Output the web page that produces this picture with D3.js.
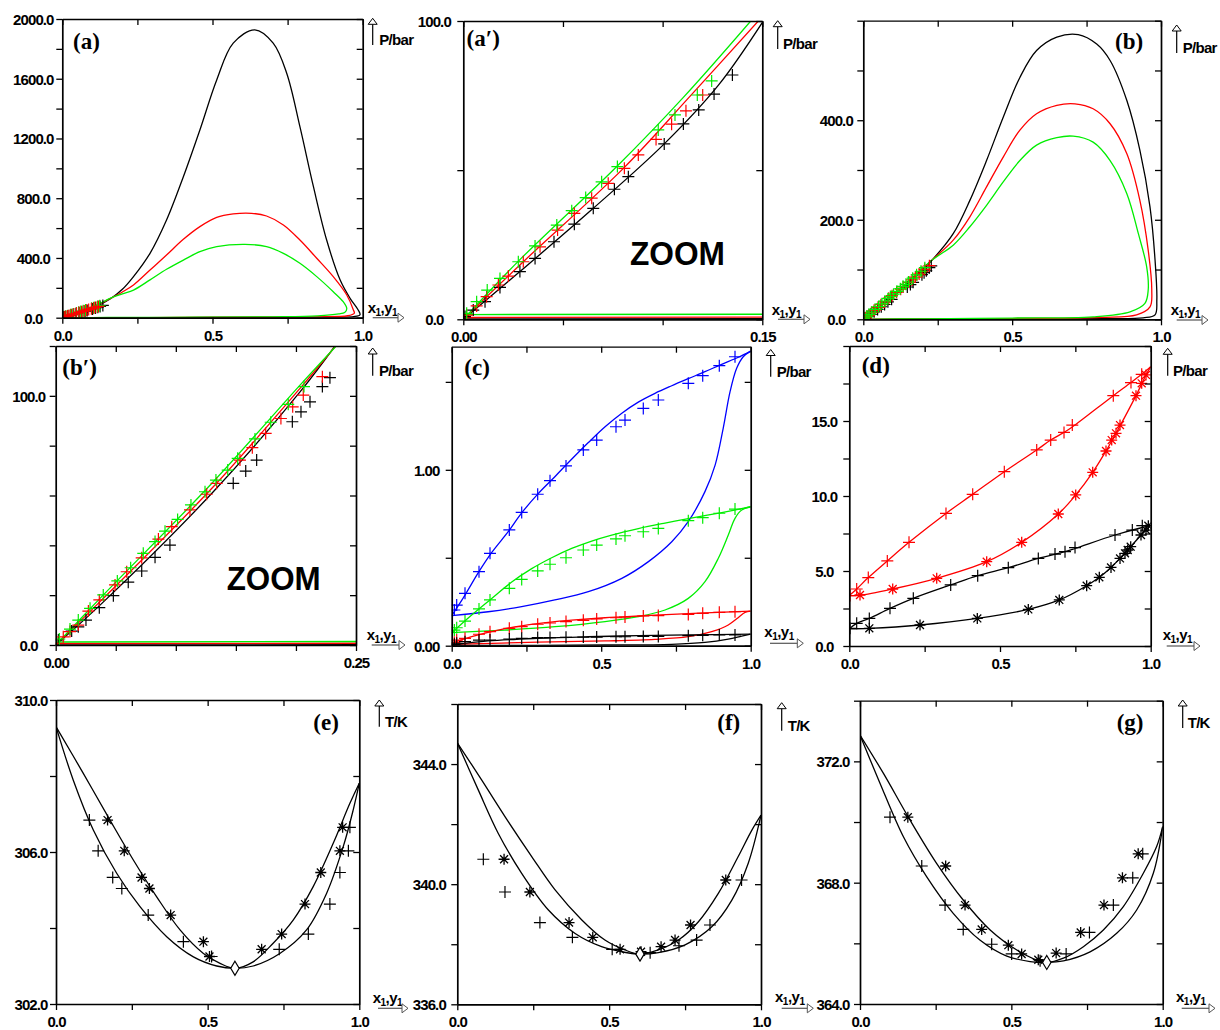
<!DOCTYPE html>
<html><head><meta charset="utf-8">
<script src="https://cdn.jsdelivr.net/npm/d3@7"></script>
<style>
body{margin:0;background:#fff;}
</style></head><body>
<svg id="chart" width="1220" height="1030"></svg>
<script>
// ---------------- DATA ----------------
// Panel (a): P-x-y loops, x1 0..1, P/bar 0..2000
const aXTicks = [0, 0.25, 0.5, 0.75, 1];
const aXLabels = [0, 0.5, 1];
const aYTicks = [0, 200, 400, 600, 800, 1000, 1200, 1400, 1600, 1800, 2000];
const aYLabels = [0, 400, 800, 1200, 1600, 2000];
const aBlackCurve = [[0,0],[0.08,47],[0.159,125],[0.20,190],[0.237,275],[0.292,431],[0.347,654],[0.403,944],[0.458,1257],[0.514,1592],[0.569,1838],[0.641,1927],[0.702,1838],[0.747,1637],[0.791,1279],[0.836,877],[0.880,520],[0.925,252],[0.958,130],[0.985,52],[0.991,20],[0.97,7],[0.90,4],[0.70,2],[0.40,1],[0.10,0.3],[0,0]];
const aRedCurve = [[0,0],[0.08,49],[0.159,128],[0.20,172],[0.237,219],[0.292,319],[0.347,420],[0.403,525],[0.458,610],[0.514,672],[0.569,695],[0.630,699],[0.680,681],[0.736,621],[0.791,520],[0.847,398],[0.902,275],[0.947,152],[0.969,52],[0.972,30],[0.95,13],[0.85,6],[0.65,3],[0.40,1.5],[0.10,0.5],[0,0]];
const aGreenCurve = [[0,0],[0.08,51],[0.159,130],[0.20,160],[0.237,185],[0.292,253],[0.347,324],[0.403,386],[0.458,442],[0.514,476],[0.608,491],[0.680,476],[0.736,431],[0.791,364],[0.847,275],[0.902,174],[0.935,107],[0.947,60],[0.94,35],[0.92,25],[0.85,12],[0.70,6],[0.45,3],[0.15,1.5],[0,0]];

// Panel (a'): zoom, x1 0..0.15, P 0..100
const apXTicks = [0, 0.05, 0.10, 0.15];
const apXLabels = [0, 0.15];
const apYTicks = [0, 50, 100];
const apYLabels = [0, 100];
const apBlackUpper = [[0,0],[0.0284,16],[0.0652,37.2],[0.1008,58.8],[0.128,78.5],[0.1505,100]];
const apRedUpper = [[0,0],[0.0301,19.3],[0.0803,50.6],[0.1146,75.4],[0.148,100]];
const apGreenUpper = [[0,0],[0.0284,20],[0.077,51.2],[0.1104,74.4],[0.1442,100]];
const apBlackLower = [[0,0.1],[0.15,0.2]];
const apRedLower = [[0,0.6],[0.15,0.7]];
const apGreenLower = [[0,1.6],[0.15,1.7]];
const apBlackPts = [[0.00085,0.9],[0.005,3.1],[0.0109,5.9],[0.0184,10.7],[0.0284,16.0],[0.036,20.4],[0.0455,26.0],[0.0557,31.9],[0.0652,37.2],[0.0758,43.6],[0.0828,47.8],[0.1008,58.8],[0.1104,65.5],[0.1181,70.2],[0.1258,75.5],[0.135,81.9]];
const apRedPts = [[0.0017,1.4],[0.0067,4.5],[0.0117,7.6],[0.0176,11.5],[0.0226,14.5],[0.0301,19.3],[0.0385,24.3],[0.0473,29.9],[0.0557,35.5],[0.0644,40.6],[0.0727,45.6],[0.0808,50.6],[0.0878,55.1],[0.0967,60.3],[0.1045,65.4],[0.1117,69.9],[0.1201,75.2]];
const apGreenPts = [[0.0017,2.0],[0.0067,5.9],[0.012,9.8],[0.0184,13.7],[0.0276,19.3],[0.036,24.6],[0.0469,31.6],[0.0544,36.4],[0.0614,40.8],[0.0694,46.1],[0.0773,51.2],[0.0978,63.5],[0.1062,68.5],[0.1174,75.2],[0.1246,79.9]];

// Panel (b): x1 0..1, P 0..600
const bXTicks = [0, 0.25, 0.5, 0.75, 1];
const bXLabels = [0, 0.5, 1];
const bYTicks = [0, 100, 200, 300, 400, 500, 600];
const bYLabels = [0, 200, 400];
const bBlackCurve = [[0,0],[0.1312,61.5],[0.2325,120],[0.302,172],[0.358,239],[0.414,319],[0.470,406],[0.526,486],[0.582,540],[0.650,567],[0.722,572],[0.784,553],[0.829,520],[0.885,440],[0.929,340],[0.963,226],[0.980,119],[0.986,39],[0.980,9],[0.94,3],[0.80,1.5],[0.50,0.8],[0.20,0.3],[0,0]];
const bRedCurve = [[0,0],[0.1312,63.5],[0.233,120],[0.302,159],[0.358,206],[0.414,266],[0.470,326],[0.526,380],[0.582,413],[0.650,430],[0.711,433],[0.772,423],[0.829,393],[0.885,333],[0.929,239],[0.957,139],[0.969,59],[0.963,25],[0.918,9],[0.80,4],[0.50,1.5],[0.20,0.5],[0,0]];
const bGreenCurve = [[0,0],[0.1312,65.5],[0.2335,120],[0.302,149],[0.358,186],[0.414,229],[0.470,276],[0.526,319],[0.582,350],[0.650,365],[0.705,368],[0.772,356],[0.829,319],[0.885,253],[0.924,172],[0.952,105],[0.957,59],[0.946,32],[0.896,15],[0.772,5],[0.50,2.5],[0.20,1],[0,0]];

// Panel (b'): zoom, x1 0..0.25, P 0..120
const bpXTicks = [0, 0.05, 0.10, 0.15, 0.20, 0.25];
const bpXLabels = [0, 0.25];
const bpYTicks = [0, 20, 40, 60, 80, 100, 120];
const bpYLabels = [0, 100];
const bpBlackUpper = [[0,0],[0.0369,16],[0.1312,61.5],[0.2034,101.6],[0.2325,120]];
const bpRedUpper = [[0,0],[0.0369,17.4],[0.1312,63.5],[0.2034,103],[0.233,120]];
const bpGreenUpper = [[0,0],[0.0369,18.7],[0.1312,65.5],[0.2034,104.3],[0.2335,120]];
const bpBlackLower = [[0,0.05],[0.25,0.1]];
const bpRedLower = [[0,0.6],[0.25,0.7]];
const bpGreenLower = [[0,1.2],[0.25,1.4]];
const bpBlackPts = [[0.0022,2.0],[0.0133,5.6],[0.0188,7.3],[0.0252,10.0],[0.0363,15.0],[0.048,19.8],[0.0604,25.2],[0.0716,29.7],[0.0827,35.2],[0.0951,40.1],[0.1478,64.9],[0.1582,69.8],[0.1673,74.2],[0.197,89.6],[0.2042,93.6],[0.2117,97.6],[0.222,103.7],[0.2283,107.3]];
const bpRedPts = [[0.0008,0.7],[0.0063,3.3],[0.0119,5.4],[0.0188,8.0],[0.0272,13.6],[0.0363,18.1],[0.0494,24.1],[0.0591,29.4],[0.0716,35.0],[0.0855,42.5],[0.0966,47.5],[0.1118,54.2],[0.1257,60.5],[0.134,64.9],[0.1534,74.2],[0.1637,79.2],[0.1748,84.9],[0.1875,90.9],[0.1973,95.6],[0.2061,100.3],[0.222,107.7]];
const bpGreenPts = [[0.003,2.4],[0.0119,6.4],[0.0188,10.0],[0.0286,14.7],[0.0396,20.1],[0.0513,25.7],[0.0624,31.0],[0.0729,36.8],[0.0827,41.5],[0.091,45.7],[0.1015,50.4],[0.1126,56.2],[0.1243,61.5],[0.1334,66.2],[0.1432,70.2],[0.1515,74.9],[0.1659,82.7],[0.179,89.4],[0.1936,96.6],[0.2067,103.7]];

// Panel (c): x1 0..1, P 0..1.7
const cXTicks = [0, 0.25, 0.5, 0.75, 1];
const cXLabels = [0, 0.5, 1];
const cYTicks = [0, 0.5, 1.0, 1.5];
const cYLabels = [0, 1.0];
const cBlueBub = [[0,0.171],[0.0445,0.288],[0.089,0.415],[0.134,0.530],[0.189,0.648],[0.234,0.755],[0.29,0.866],[0.345,0.961],[0.401,1.060],[0.457,1.155],[0.513,1.245],[0.569,1.322],[0.624,1.385],[0.68,1.435],[0.736,1.478],[0.791,1.518],[0.847,1.558],[0.903,1.600],[0.959,1.640],[1,1.675]];
const cBlueDew = [[0,0.171],[0.122,0.193],[0.234,0.222],[0.345,0.26],[0.457,0.307],[0.569,0.383],[0.658,0.478],[0.736,0.591],[0.791,0.705],[0.847,0.876],[0.881,1.027],[0.908,1.236],[0.931,1.444],[0.953,1.577],[0.975,1.643],[1,1.675]];
const cGreenBub = [[0,0.074],[0.0669,0.175],[0.1338,0.269],[0.2007,0.362],[0.2676,0.438],[0.3344,0.500],[0.4013,0.553],[0.4682,0.595],[0.5351,0.629],[0.6241,0.666],[0.7134,0.697],[0.7913,0.722],[0.903,0.757],[1,0.79]];
const cGreenDew = [[0,0.074],[0.178,0.089],[0.3456,0.108],[0.5128,0.137],[0.624,0.165],[0.7134,0.203],[0.7913,0.269],[0.8472,0.364],[0.8917,0.497],[0.9251,0.629],[0.9475,0.724],[0.9699,0.771],[1,0.79]];
const cRedBub = [[0,0.014],[0.0669,0.051],[0.178,0.097],[0.2876,0.126],[0.4013,0.145],[0.5128,0.159],[0.624,0.169],[0.7355,0.178],[0.847,0.187],[1,0.197]];
const cRedDew = [[0,0.008],[0.2876,0.02],[0.5128,0.027],[0.6799,0.036],[0.7913,0.051],[0.8695,0.08],[0.925,0.118],[0.958,0.159],[0.9811,0.189],[1,0.197]];
const cBlackBub = [[0,0.004],[0.122,0.027],[0.2876,0.042],[0.4569,0.051],[0.624,0.057],[0.7913,0.061],[1,0.066]];
const cBlackDew = [[0,0.001],[0.5128,0.004],[0.7355,0.008],[0.847,0.019],[0.925,0.038],[0.9699,0.055],[1,0.066]];
const cXExp = [0.0089,0.0167,0.0445,0.0913,0.1281,0.1927,0.2341,0.2876,0.3288,0.3823,0.4402,0.4849,0.5495,0.5796,0.6408,0.691,0.7913,0.8395,0.895,0.9475];
const cBluePts = [0.203,0.231,0.298,0.421,0.525,0.658,0.758,0.861,0.938,1.022,1.113,1.169,1.245,1.283,1.349,1.397,1.492,1.535,1.592,1.643];
const cGreenPts = [0.089,0.102,0.140,0.209,0.260,0.326,0.377,0.425,0.463,0.500,0.544,0.572,0.607,0.625,0.648,0.667,0.711,0.728,0.753,0.777];
const cRedPts = [0.019,0.032,0.042,0.065,0.080,0.099,0.108,0.122,0.129,0.137,0.144,0.152,0.159,0.163,0.169,0.171,0.178,0.184,0.190,0.193];
const cBlackPts = [0.008,0.014,0.023,0.032,0.032,0.038,0.042,0.046,0.046,0.048,0.049,0.049,0.051,0.051,0.053,0.053,0.057,0.059,0.061,0.061];

// Panel (d): x1 0..1, P 0..20
const dXTicks = [0, 0.25, 0.5, 0.75, 1];
const dXLabels = [0, 0.5, 1];
const dYTicks = [0, 2.5, 5, 7.5, 10, 12.5, 15, 17.5, 20];
const dYLabels = [0, 5, 10, 15];
const dRedBub = [[0,3.36],[0.0245,3.8],[0.063,4.56],[0.1261,5.67],[0.1981,6.91],[0.3208,8.84],[0.4094,10.11],[0.5143,11.62],[0.6218,13.07],[0.6682,13.73],[0.7124,14.24],[0.7399,14.6],[0.8759,16.69],[0.9346,17.56],[0.9701,18.11],[1,18.62]];
const dRedDew = [[0,3.36],[0.0355,3.38],[0.144,3.8],[0.29,4.51],[0.4559,5.62],[0.572,6.91],[0.6934,8.8],[0.7512,10.07],[0.8076,11.58],[0.8517,13.0],[0.8849,14.18],[0.9512,16.69],[0.9844,18.07],[1,18.62]];
const dBlackBub = [[0,1.15],[0.0245,1.51],[0.0664,1.84],[0.135,2.51],[0.2124,3.18],[0.3364,4.07],[0.426,4.69],[0.5275,5.22],[0.6271,5.84],[0.7157,6.29],[0.7489,6.5],[0.8816,7.4],[0.9721,7.9],[1,8.02]];
const dBlackDew = [[0,1.15],[0.0664,1.18],[0.2346,1.4],[0.4247,1.84],[0.5939,2.44],[0.6967,3.07],[0.7876,4.02],[0.8295,4.58],[0.8683,5.24],[0.8982,5.84],[0.9336,6.62],[0.9678,7.4],[0.9921,8.0],[1,8.02]];
const dRedPlus = [[0.0023,3.36],[0.0245,3.8],[0.063,4.56],[0.1261,5.67],[0.1981,6.91],[0.3208,8.84],[0.4094,10.11],[0.5143,11.62],[0.6218,13.07],[0.6682,13.73],[0.7124,14.24],[0.7399,14.73],[0.8759,16.69],[0.9346,17.56],[0.9701,18.11]];
const dRedStar = [[0.0355,3.4],[0.144,3.8],[0.29,4.51],[0.4559,5.62],[0.572,6.91],[0.6934,8.8],[0.7512,10.07],[0.8076,11.58],[0.8517,13.0],[0.8706,13.73],[0.8849,14.18],[0.8982,14.73],[0.9512,16.69],[0.9701,17.51],[0.9844,18.07]];
const dBlackPlus = [[0.0023,1.18],[0.0245,1.51],[0.0664,1.84],[0.135,2.51],[0.2124,3.18],[0.3364,4.07],[0.426,4.69],[0.5275,5.22],[0.6271,5.84],[0.6825,6.13],[0.7157,6.29],[0.7489,6.56],[0.8816,7.4],[0.939,7.73],[0.9721,8.02]];
const dBlackStar = [[0.0664,1.18],[0.2346,1.4],[0.4247,1.84],[0.5939,2.44],[0.6967,3.07],[0.7876,4.02],[0.8295,4.58],[0.8683,5.24],[0.8982,5.84],[0.9147,6.18],[0.9237,6.4],[0.9336,6.62],[0.9678,7.4],[0.9844,7.73],[0.9921,8.02]];

// Panel (e): T-x-y, T/K 302..310
const eXTicks = [0, 0.25, 0.5, 0.75, 1];
const eXLabels = [0, 0.5, 1];
const eYTicks = [302, 304, 306, 308, 310];
const eYLabels = [302, 306, 310];
const eDew = [[0,309.3],[0.09,308.07],[0.178,306.84],[0.255,305.79],[0.332,304.82],[0.409,303.95],[0.486,303.33],[0.541,303.07],[0.59,302.94],[0.65,303.11],[0.716,303.6],[0.782,304.21],[0.848,305.09],[0.914,306.23],[0.969,307.28],[1,307.81]];
const eBub = [[0,309.3],[0.057,307.89],[0.123,306.58],[0.2,305.44],[0.277,304.56],[0.365,303.77],[0.453,303.24],[0.53,303.0],[0.59,302.94],[0.65,303.0],[0.738,303.33],[0.826,303.95],[0.892,304.91],[0.947,306.14],[0.98,307.11],[1,307.81]];
const ePlus = [[0.110,306.84],[0.139,306.03],[0.187,305.33],[0.217,305.04],[0.304,304.34],[0.420,303.64],[0.513,303.25],[0.736,303.44],[0.832,303.84],[0.903,304.63],[0.936,305.46],[0.964,306.03],[0.969,306.65]];
const eStar = [[0.170,306.84],[0.225,306.03],[0.282,305.33],[0.308,305.04],[0.378,304.34],[0.486,303.64],[0.506,303.25],[0.678,303.44],[0.744,303.84],[0.821,304.63],[0.873,305.46],[0.936,306.03],[0.945,306.65]];
const eAzeo = [[0.59,302.94]];

// Panel (f): T/K 336..346
const fXTicks = [0, 0.25, 0.5, 0.75, 1];
const fXLabels = [0, 0.5, 1];
const fYTicks = [336, 338, 340, 342, 344, 346];
const fYLabels = [336, 340, 344];
const fDew = [[0,344.71],[0.08,343.47],[0.157,342.25],[0.245,340.92],[0.322,339.81],[0.41,338.81],[0.486,338.14],[0.552,337.81],[0.6016,337.67],[0.662,337.81],[0.728,338.14],[0.794,338.75],[0.86,339.7],[0.925,340.92],[0.97,341.8],[1,342.3]];
const fBub = [[0,344.71],[0.069,343.14],[0.135,341.69],[0.212,340.36],[0.3,339.14],[0.388,338.36],[0.475,337.92],[0.541,337.75],[0.6016,337.67],[0.662,337.72],[0.75,337.98],[0.838,338.58],[0.904,339.47],[0.958,340.7],[1,342.3]];
const fPlus = [[0.0857,340.83],[0.157,339.74],[0.272,338.72],[0.379,338.23],[0.510,337.83],[0.635,337.72],[0.730,337.95],[0.788,338.14],[0.832,338.64],[0.936,340.14]];
const fStar = [[0.154,340.83],[0.239,339.74],[0.368,338.72],[0.446,338.23],[0.536,337.83],[0.605,337.75],[0.671,337.92],[0.717,338.14],[0.768,338.64],[0.884,340.14]];
const fAzeo = [[0.6016,337.67]];

// Panel (g): T/K 364..374
const gXTicks = [0, 0.25, 0.5, 0.75, 1];
const gXLabels = [0, 0.5, 1];
const gYTicks = [364, 366, 368, 370, 372, 374];
const gYLabels = [364, 368, 372];
const gDew = [[0,372.87],[0.077,371.61],[0.165,370.07],[0.253,368.64],[0.341,367.43],[0.43,366.44],[0.518,365.78],[0.584,365.45],[0.617,365.37],[0.672,365.51],[0.738,365.89],[0.804,366.44],[0.87,367.21],[0.936,368.31],[0.98,369.19],[1,369.85]];
const gBub = [[0,372.87],[0.066,371.28],[0.143,369.52],[0.22,368.2],[0.308,366.99],[0.396,366.11],[0.485,365.58],[0.562,365.40],[0.617,365.37],[0.672,365.42],[0.76,365.72],[0.848,366.33],[0.914,367.1],[0.969,368.31],[1,369.85]];
const gPlus = [[0.0991,370.16],[0.204,368.55],[0.281,367.26],[0.341,366.46],[0.435,365.97],[0.501,365.65],[0.595,365.43],[0.681,365.65],[0.758,366.36],[0.837,367.26],[0.901,368.16],[0.934,368.95]];
const gStar = [[0.158,370.16],[0.283,368.55],[0.347,367.26],[0.402,366.46],[0.490,365.94],[0.534,365.65],[0.589,365.46],[0.648,365.68],[0.729,366.36],[0.806,367.26],[0.867,368.16],[0.919,368.95]];
const gAzeo = [[0.617,365.37]];

// ---------------- STYLE / LAYOUT ----------------
const COL = {black:"#000000", red:"#ff0000", green:"#00ee00", blue:"#0000ff"};
const zipX = (xs, ys) => xs.map((v, i) => [v, ys[i]]);

const panels = [
 {id:"a", box:[62.3,362.7,19,317.7], xDomain:[0,1], yDomain:[0,2000], xTicks:aXTicks, xLabels:aXLabels, yTicks:aYTicks, yLabels:aYLabels, xFmt:".1f", yFmt:".1f", yLabDx:29,
  title:"(a)", titlePos:[73,49], yName:"P/bar", yArrow:[372.7,18.3,45], yTextPos:[379.3,45], xTextPos:[367.7,313.3], xArrow:[372.7,404,317.7],
  lines:[[aBlackCurve,"black"],[aRedCurve,"red"],[aGreenCurve,"green"]],
  marks:[[apBlackPts,"black","plus"],[apGreenPts,"green","plus"],[apRedPts,"red","plus"]]},
 {id:"ap", box:[463.3,762.3,21,319.3], xDomain:[0,0.15], yDomain:[0,100], xTicks:apXTicks, xLabels:apXLabels, yTicks:apYTicks, yLabels:apYLabels, xFmt:".2f", yFmt:".1f", yLabDx:29,
  title:"(a\u2032)", titlePos:[466.5,46], yName:"P/bar", yArrow:[777.7,20.7,49], yTextPos:[783,49], xTextPos:[771.7,315], xArrow:[778,810,319.3], zoom:[630,265,95],
  lines:[[apBlackUpper,"black"],[apRedUpper,"red"],[apGreenUpper,"green"],[apBlackLower,"black"],[apRedLower,"red"],[apGreenLower,"green"]],
  marks:[[apBlackPts,"black","plus"],[apRedPts,"red","plus"],[apGreenPts,"green","plus"]]},
 {id:"b", box:[863.3,1161,20.7,319.3], xDomain:[0,1], yDomain:[0,600], xTicks:bXTicks, xLabels:bXLabels, yTicks:bYTicks, yLabels:bYLabels, xFmt:".1f", yFmt:".1f", yLabDx:27,
  title:"(b)", titlePos:[1115,49], yName:"P/bar", yArrow:[1176.7,25,53], yTextPos:[1182.7,53], xTextPos:[1170.7,315], xArrow:[1176.7,1208,320],
  lines:[[bBlackCurve,"black"],[bRedCurve,"red"],[bGreenCurve,"green"]],
  marks:[[bpBlackPts,"black","plus"],[bpRedPts,"red","plus"],[bpGreenPts,"green","plus"]]},
 {id:"bp", box:[55.7,356,346,645], xDomain:[0,0.25], yDomain:[0,120], xTicks:bpXTicks, xLabels:bpXLabels, yTicks:bpYTicks, yLabels:bpYLabels, xFmt:".2f", yFmt:".1f", yLabDx:27,
  title:"(b\u2032)", titlePos:[62.3,375], yName:"P/bar", yArrow:[372.7,348,375.7], yTextPos:[379,375.7], xTextPos:[366.7,640], xArrow:[371.7,405,645], zoom:[226.7,590,94],
  lines:[[bpBlackUpper,"black"],[bpRedUpper,"red"],[bpGreenUpper,"green"],[bpBlackLower,"black"],[bpRedLower,"red"],[bpGreenLower,"green"]],
  marks:[[bpBlackPts,"black","plus"],[bpRedPts,"red","plus"],[bpGreenPts,"green","plus"]]},
 {id:"c", box:[451.7,750.7,346.7,645.7], xDomain:[0,1], yDomain:[0,1.7], xTicks:cXTicks, xLabels:cXLabels, yTicks:cYTicks, yLabels:cYLabels, xFmt:".1f", yFmt:".2f", yLabDx:25,
  title:"(c)", titlePos:[464.3,375], yName:"P/bar", yArrow:[770.7,349.5,376.7], yTextPos:[776.7,376.7], xTextPos:[764.3,636.7], xArrow:[770,803.3,643.3],
  lines:[[cBlueBub,"blue"],[cBlueDew,"blue"],[cGreenBub,"green"],[cGreenDew,"green"],[cRedBub,"red"],[cRedDew,"red"],[cBlackBub,"black"],[cBlackDew,"black"]],
  marks:[[zipX(cXExp,cBluePts),"blue","plus"],[zipX(cXExp,cGreenPts),"green","plus"],[zipX(cXExp,cRedPts),"red","plus"],[zipX(cXExp,cBlackPts),"black","plus"]]},
 {id:"d", box:[849.3,1150.7,346,646], xDomain:[0,1], yDomain:[0,20], xTicks:dXTicks, xLabels:dXLabels, yTicks:dYTicks, yLabels:dYLabels, xFmt:".1f", yFmt:".1f", yLabDx:25,
  title:"(d)", titlePos:[861.7,373], yName:"P/bar", yArrow:[1167.7,348.3,375.7], yTextPos:[1173,375.7], xTextPos:[1162.7,640], xArrow:[1166.7,1200,646],
  lines:[[dRedBub,"red"],[dRedDew,"red"],[dBlackBub,"black"],[dBlackDew,"black"]],
  marks:[[dRedPlus,"red","plus"],[dRedStar,"red","star"],[dBlackPlus,"black","plus"],[dBlackStar,"black","star"]]},
 {id:"e", box:[56,359.3,700,1004], xDomain:[0,1], yDomain:[302,310], xTicks:eXTicks, xLabels:eXLabels, yTicks:eYTicks, yLabels:eYLabels, xFmt:".1f", yFmt:".1f", yLabDx:25,
  title:"(e)", titlePos:[313.3,730], yName:"T/K", yArrow:[379.3,700,726.7], yTextPos:[385,726.7], xTextPos:[372.7,1002.7], xArrow:[378,408,1008.3],
  lines:[[eDew,"black"],[eBub,"black"]],
  marks:[[ePlus,"black","plus"],[eStar,"black","star"],[eAzeo,"black","diamond"]]},
 {id:"f", box:[457.3,761,704,1004.3], xDomain:[0,1], yDomain:[336,346], xTicks:fXTicks, xLabels:fXLabels, yTicks:fYTicks, yLabels:fYLabels, xFmt:".1f", yFmt:".1f", yLabDx:28,
  title:"(f)", titlePos:[717.3,730], yName:"T/K", yArrow:[781.7,702.7,730.7], yTextPos:[787.7,730.7], xTextPos:[775,1001.7], xArrow:[781.7,813.3,1008.3],
  lines:[[fDew,"black"],[fBub,"black"]],
  marks:[[fPlus,"black","plus"],[fStar,"black","star"],[fAzeo,"black","diamond"]]},
 {id:"g", box:[860,1162.7,700.7,1004], xDomain:[0,1], yDomain:[364,374], xTicks:gXTicks, xLabels:gXLabels, yTicks:gYTicks, yLabels:gYLabels, xFmt:".1f", yFmt:".1f", yLabDx:27,
  title:"(g)", titlePos:[1116.7,730], yName:"T/K", yArrow:[1182.7,700,728], yTextPos:[1187.7,728], xTextPos:[1176,1002], xArrow:[1181.7,1215,1008.3],
  lines:[[gDew,"black"],[gBub,"black"]],
  marks:[[gPlus,"black","plus"],[gStar,"black","star"],[gAzeo,"black","diamond"]]}
];

// ---------------- DRAW ----------------
const svg = d3.select("#chart");
const defs = svg.append("defs");
const SHAPES = {
  plus: s => `M${-s},0H${s}M0,${-s}V${s}`,
  star: s => { const k = s * 0.72; return `M${-s},0H${s}M0,${-s}V${s}M${-k},${-k}L${k},${k}M${-k},${k}L${k},${-k}`; },
  diamond: s => `M0,${-s}L${s*0.6},0L0,${s}L${-s*0.6},0Z`
};
const isLabel = (arr, v) => arr.some(l => Math.abs(l - v) < 1e-9);
const FONT = "'Liberation Sans', Arial, sans-serif";
const SERIF = "'Liberation Serif', 'Times New Roman', serif";

panels.forEach(p => {
  const [L, R, T, B] = p.box;
  const x = d3.scaleLinear().domain(p.xDomain).range([L, R]);
  const y = d3.scaleLinear().domain(p.yDomain).range([B, T]);
  const g = svg.append("g").attr("class", "panel-" + p.id);

  defs.append("clipPath").attr("id", "clip-" + p.id)
    .append("rect").attr("x", L).attr("y", T).attr("width", R - L).attr("height", B - T);
  const plot = g.append("g").attr("clip-path", `url(#clip-${p.id})`);

  const line = d3.line().x(d => x(d[0])).y(d => y(d[1])).curve(d3.curveCatmullRom.alpha(0.5));
  p.lines.forEach(([data, c]) => {
    plot.append("path").attr("d", line(data)).attr("fill", "none")
      .attr("stroke", COL[c]).attr("stroke-width", 1.3);
  });
  p.marks.forEach(([data, c, shape]) => {
    const size = shape === "plus" ? 6 : shape === "star" ? 5.5 : 7;
    plot.append("g").selectAll("path").data(data).join("path")
      .attr("transform", d => `translate(${x(d[0])},${y(d[1])})`)
      .attr("d", SHAPES[shape](size))
      .attr("fill", shape === "diamond" ? "#fff" : "none")
      .attr("stroke", COL[c]).attr("stroke-width", shape === "star" ? 1.3 : 1.2);
  });

  // axes (frame)
  const fx = d3.format(p.xFmt), fy = d3.format(p.yFmt);
  const style = sel => {
    sel.attr("font-family", FONT).attr("font-size", 15).attr("font-weight", "bold");
    sel.select(".domain").attr("stroke", "#000").attr("stroke-width", 1.7);
    sel.selectAll(".tick line").attr("stroke", "#000").attr("stroke-width", 1.3);
    sel.selectAll(".tick text").attr("fill", "#000").attr("letter-spacing", "-0.9px");
  };
  const left = g.append("g").attr("transform", `translate(${L},0)`)
    .call(d3.axisLeft(y).tickValues(p.yTicks).tickSize(6).tickSizeOuter(0)
      .tickFormat(v => isLabel(p.yLabels, v) ? fy(v) : ""));
  style(left);
  left.selectAll(".tick text").attr("text-anchor", "middle").attr("x", -p.yLabDx).attr("dy", "0.36em");

  const bottom = g.append("g").attr("transform", `translate(0,${B})`)
    .call(d3.axisBottom(x).tickValues(p.xTicks).tickSize(6).tickSizeOuter(0)
      .tickFormat(v => isLabel(p.xLabels, v) ? fx(v) : ""));
  style(bottom);
  bottom.selectAll(".tick text").attr("y", 23).attr("dy", 0);

  const right = g.append("g").attr("transform", `translate(${R},0)`)
    .call(d3.axisLeft(y).tickValues(p.yTicks).tickSize(6).tickSizeOuter(0).tickFormat(""));
  style(right);
  const top = g.append("g").attr("transform", `translate(0,${T})`)
    .call(d3.axisBottom(x).tickValues(p.xTicks).tickSize(6).tickSizeOuter(0).tickFormat(""));
  style(top);
  top.select(".domain").attr("stroke-width", 1.3);

  // panel title
  g.append("text").attr("x", p.titlePos[0]).attr("y", p.titlePos[1])
    .attr("font-family", SERIF).attr("font-weight", "bold")
    .attr("font-size", 23).text(p.title);

  // ZOOM text
  if (p.zoom) {
    g.append("text").attr("x", p.zoom[0]).attr("y", p.zoom[1])
      .attr("font-family", FONT).attr("font-weight", "bold").attr("font-size", 34)
      .attr("textLength", p.zoom[2]).attr("lengthAdjust", "spacingAndGlyphs").text("ZOOM");
  }

  // y-axis name with up arrow
  const [ax, aTop, aBot] = p.yArrow;
  g.append("line").attr("x1", ax).attr("x2", ax).attr("y1", aTop + 6).attr("y2", aBot)
    .attr("stroke", "#000").attr("stroke-width", 1.2);
  g.append("path").attr("d", `M${ax - 4.5},${aTop + 6}L${ax + 4.5},${aTop + 6}L${ax},${aTop}Z`)
    .attr("fill", "#fff").attr("stroke", "#000").attr("stroke-width", 1);
  g.append("text").attr("x", p.yTextPos[0]).attr("y", p.yTextPos[1])
    .attr("font-family", FONT).attr("font-weight", "bold").attr("font-size", 15)
    .attr("letter-spacing", "-0.7px").text(p.yName);

  // x-axis name with right arrow
  const xt = g.append("text").attr("x", p.xTextPos[0]).attr("y", p.xTextPos[1])
    .attr("font-family", FONT).attr("font-weight", "bold").attr("font-size", 15).attr("letter-spacing", "-0.5px");
  xt.append("tspan").text("x");
  xt.append("tspan").attr("font-size", 10).attr("dy", 3).text("1");
  xt.append("tspan").attr("dy", -3).text(",y");
  xt.append("tspan").attr("font-size", 10).attr("dy", 3).text("1");
  const [x1, x2, yy] = p.xArrow;
  g.append("line").attr("x1", x1).attr("x2", x2 - 6).attr("y1", yy).attr("y2", yy)
    .attr("stroke", "#555").attr("stroke-width", 1.2);
  g.append("path").attr("d", `M${x2 - 6},${yy - 4.5}L${x2 - 6},${yy + 4.5}L${x2},${yy}Z`)
    .attr("fill", "#fff").attr("stroke", "#555").attr("stroke-width", 1);
});
</script></body></html>
